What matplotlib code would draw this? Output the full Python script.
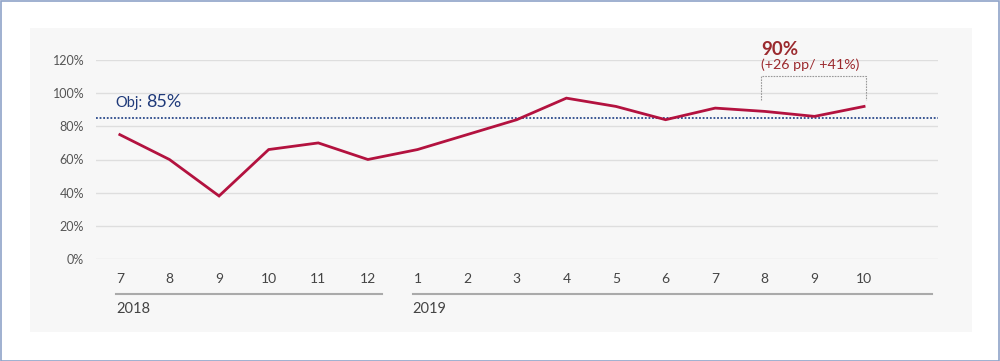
import matplotlib
matplotlib.use("Agg")
import matplotlib.pyplot as plt
from matplotlib.patches import Rectangle
import matplotlib.transforms as mtransforms

months = ["7", "8", "9", "10", "11", "12", "1", "2", "3", "4", "5", "6", "7", "8", "9", "10"]
values = [75, 60, 38, 66, 70, 60, 66, 75, 84, 97, 92, 84, 91, 89, 86, 92]
target = 85
yticks = [0, 20, 40, 60, 80, 100, 120]
years = ["2018", "2019"]
year_spans = [(-0.08, 5.28), (5.9, 16.37)]

plt.rcParams['font.family'] = ['Lato', 'DejaVu Sans']

W, H = 1000, 361
fig = plt.figure(figsize=(W / 100, H / 100), dpi=100)
fig.patch.set_facecolor('white')
# outer border
fig.add_artist(Rectangle((0.0005, 0.001), 0.998, 0.996, transform=fig.transFigure,
                         fill=False, edgecolor='#8FA3C8', linewidth=1.2))
# grey panel
fig.add_artist(Rectangle((30 / W, (H - 332) / H), (972 - 30) / W, (332 - 28) / H,
                         transform=fig.transFigure, facecolor='#F7F7F7', edgecolor='none', zorder=0))

ax = fig.add_axes([96 / W, (H - 259) / H, (938 - 96) / W, (259 - 60) / H])
ax.set_facecolor('none')
x = list(range(len(values)))
ax.set_xlim(-0.48, len(values) - 1 + 1.49)
ax.set_ylim(0, 120)

for yv in yticks:
    ax.axhline(yv, color='#DEDEDE', linewidth=1.0, zorder=1)

ax.axhline(target, color='#2B4A8B', linewidth=1.3, linestyle=(0, (1, 1)), zorder=2)
ax.plot(x, values, color='#B3123F', linewidth=2.0, zorder=3, solid_joinstyle='miter')

for s in ax.spines.values():
    s.set_visible(False)
ax.set_yticks(yticks)
ax.set_yticklabels([f"{v}%" for v in yticks], fontsize=9, color='#555555')
ax.set_xticks(x)
ax.set_xticklabels(months, fontsize=10, color='#444444')
ax.tick_params(axis='both', length=0)
ax.tick_params(axis='y', pad=8.5)
ax.tick_params(axis='x', pad=10)

# objective label
ax.text(-0.08, 91.7, "Obj:", color='#1F3A7A', fontsize=10.5, va='baseline', ha='left')
ax.text(0.54, 91.7, "85%", color='#1F3A7A', fontsize=13, va='baseline', ha='left')

# year separators
trans = mtransforms.blended_transform_factory(ax.transData, ax.transAxes)
for (x0, x1), yr in zip(year_spans, years):
    ax.plot([x0, x1], [-0.176, -0.176], transform=trans, color='#AAAAAA', linewidth=1.5, clip_on=False)
    ax.text(x0, -0.215, yr, transform=trans, fontsize=10.5, color='#444444', ha='left', va='top')

# annotation bracket
bx0, bx1 = 12.93, 15.04
ax.plot([bx0, bx0, bx1, bx1], [95.9, 110.4, 110.4, 95.9], color='#999999', linewidth=0.8,
        linestyle=(0, (1.5, 1)), clip_on=False, zorder=2)
ax.text(bx0, 123.2, "90%", color='#9B2A2E', fontsize=13.5, fontweight='bold', ha='left', va='baseline')
ax.text(bx0, 114.3, "(+26 pp/ +41%)", color='#9B2A2E', fontsize=10.3, ha='left', va='baseline')

fig.savefig("out.png", dpi=100)
